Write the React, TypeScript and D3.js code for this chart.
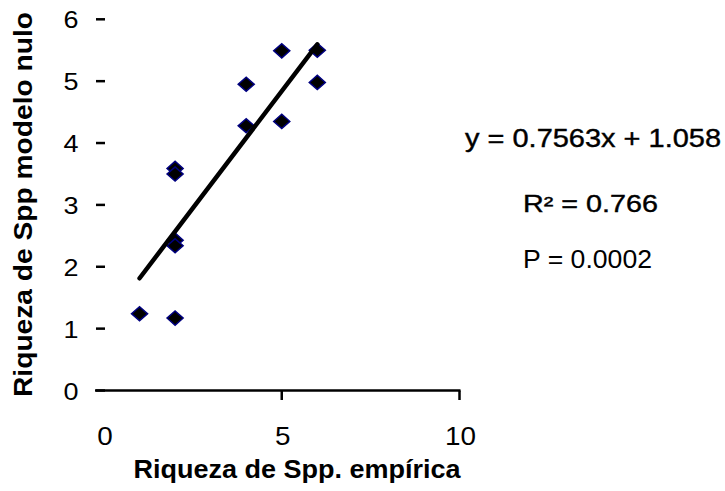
import React from "react";
import * as d3 from "d3";

const empirica = [1, 2, 2, 2, 2, 2, 4, 4, 5, 5, 6, 6];
const modeloNulo = [1.24, 1.17, 3.59, 3.5, 2.43, 2.34, 4.95, 4.28, 5.49, 4.35, 5.5, 4.98];
const xTicks = [0, 5, 10];
const yTicks = [0, 1, 2, 3, 4, 5, 6];
const slope = 0.7563;
const intercept = 1.058;
const fitRange = [1, 6];
const eqText = "y = 0.7563x + 1.058";
const r2Text = "R² = 0.766";
const pText = "P = 0.0002";
const xTitle = "Riqueza de Spp. empírica";
const yTitle = "Riqueza de Spp modelo nulo";

const W = 725;
const H = 491;
const FONT = "'Liberation Sans', Arial, Helvetica, sans-serif";

export default function App() {
  const x = d3.scaleLinear().domain([0, 10]).range([104, 459.5]);
  const y = d3.scaleLinear().domain([0, 6]).range([390.5, 19.3]);
  const line = d3
    .line<number>()
    .x((d) => x(d))
    .y((d) => y(slope * d + intercept));
  const diamond = d3.symbol().type(d3.symbolDiamond2).size(150)();

  return (
    <svg
      width={W}
      height={H}
      viewBox={`0 0 ${W} ${H}`}
      style={{ position: "absolute", left: 0, top: 0, background: "#fff" }}
      fontFamily={FONT}
    >
      <rect width={W} height={H} fill="#fff" />
      {/* y ticks */}
      {yTicks.map((t) => (
        <g key={"yt" + t}>
          <line x1={96} x2={105} y1={y(t)} y2={y(t)} stroke="#000" strokeWidth={2.5} />
          <text
            x={78.5}
            y={y(t) + 9}
            textAnchor="end"
            fontSize={23}
            textLength={15}
            lengthAdjust="spacingAndGlyphs"
            fill="#000"
          >
            {t}
          </text>
        </g>
      ))}
      {/* x axis */}
      <line x1={95} x2={460.5} y1={y(0)} y2={y(0)} stroke="#000" strokeWidth={2.5} />
      {xTicks.map((t) => (
        <g key={"xt" + t}>
          {t > 0 && (
            <line x1={x(t)} x2={x(t)} y1={y(0)} y2={y(0) + 9.5} stroke="#000" strokeWidth={2.5} />
          )}
          <text
            x={x(t) + 1}
            y={445}
            textAnchor="middle"
            fontSize={25}
            textLength={String(t).length * 15.5}
            lengthAdjust="spacingAndGlyphs"
            fill="#000"
          >
            {t}
          </text>
        </g>
      ))}
      {/* points */}
      {empirica.map((e, i) => (
        <path
          key={"p" + i}
          d={diamond}
          transform={`translate(${x(e)},${y(modeloNulo[i])}) scale(1.05,0.92)`}
          fill="#000"
          stroke="#000080"
          strokeWidth={1.5}
        />
      ))}
      {/* trend line */}
      <path d={line(fitRange) || ""} stroke="#000" strokeWidth={4.5} fill="none" strokeLinecap="round" />
      {/* annotations */}
      <text
        x={465}
        y={146.5}
        fontSize={25}
        textLength={256}
        lengthAdjust="spacingAndGlyphs"
        fill="#000"
        stroke="#000"
        strokeWidth={0.4}
      >
        {eqText}
      </text>
      <text
        x={523}
        y={212}
        fontSize={23}
        textLength={135}
        lengthAdjust="spacingAndGlyphs"
        fill="#000"
        stroke="#000"
        strokeWidth={0.4}
      >
        {r2Text}
      </text>
      <text x={523} y={268.3} fontSize={25} textLength={129} lengthAdjust="spacingAndGlyphs" fill="#000">
        {pText}
      </text>
      {/* axis titles */}
      <text
        x={133.5}
        y={478}
        fontSize={25}
        fontWeight="bold"
        textLength={327}
        lengthAdjust="spacingAndGlyphs"
        fill="#000"
      >
        {xTitle}
      </text>
      <text
        transform="translate(31.7,397) rotate(-90)"
        x={0}
        y={0}
        fontSize={25}
        fontWeight="bold"
        textLength={385}
        lengthAdjust="spacingAndGlyphs"
        fill="#000"
      >
        {yTitle}
      </text>
    </svg>
  );
}
